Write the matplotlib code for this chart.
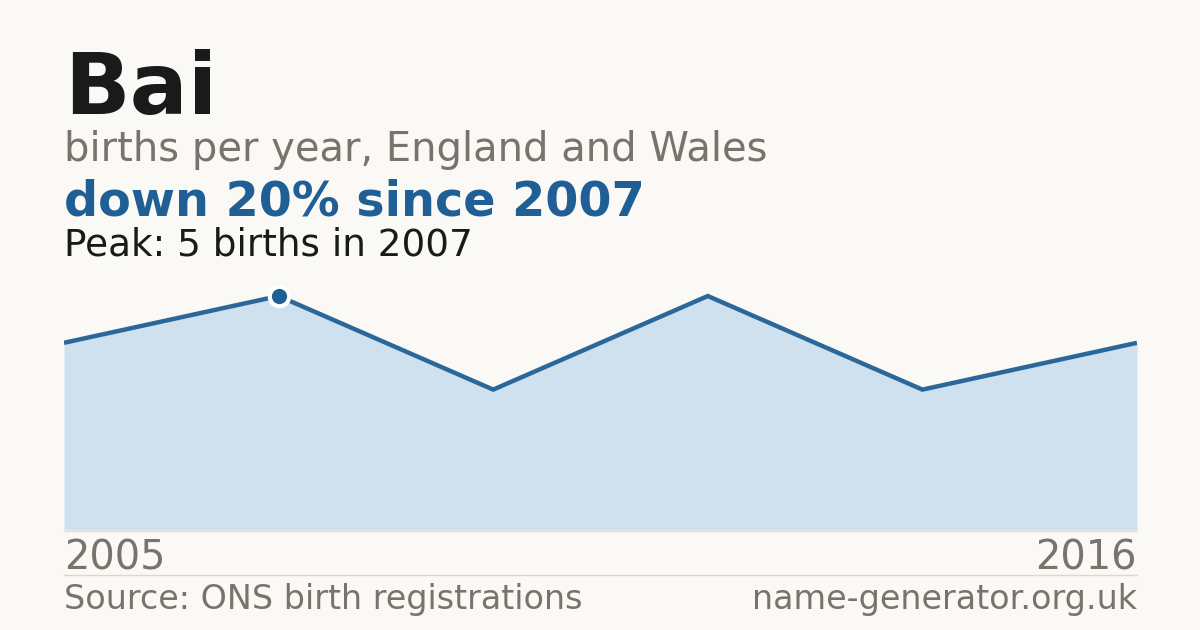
import matplotlib
matplotlib.use('Agg')
import matplotlib.pyplot as plt
from matplotlib.lines import Line2D

plt.rcParams['font.family'] = ['DejaVu Sans']

# data
years = [2005, 2007, 2009, 2011, 2014, 2016]
births = [4, 5, 3, 5, 3, 4]
name = 'Bai'
subtitle = 'births per year, England and Wales'
headline = 'down 20% since 2007'
peak_note = 'Peak: 5 births in 2007'
source = 'Source: ONS birth registrations'
site = 'name-generator.org.uk'

bg = '#faf9f5'
blue = '#1f5f96'
grey = '#78736b'

W, H = 1200, 630
fig = plt.figure(figsize=(W / 100, H / 100), dpi=100, facecolor=bg)

def fx(px):
    return px / W

def fy(py):
    return 1 - py / H

ax = fig.add_axes([fx(64), fy(530), fx(1137) - fx(64), fy(270) - fy(530)])
ax.set_facecolor(bg)
xs = list(range(len(births)))
ax.fill_between(xs, births, 0, color='#cfe0ef', lw=0)
ax.plot(xs, births, color='#2b6799', lw=3.2, solid_capstyle='butt', solid_joinstyle='miter')
pk = births.index(max(births))
ax.plot([xs[pk]], [births[pk]], 'o', ms=14, mfc=blue, mec='white', mew=3, zorder=5)
ax.set_xlim(0, len(births) - 1)
ax.set_ylim(0, 5.556)
ax.axis('off')

# baseline and separator
fig.add_artist(Line2D([fx(64), fx(1137)], [fy(530.5), fy(530.5)], color='#e4ded2', lw=1))
fig.add_artist(Line2D([fx(64), fx(1137)], [fy(574.5), fy(574.5)], color='#dcd8d0', lw=1))

fig.text(fx(64), fy(114), name, fontsize=62, fontweight='bold', color='#1a1a1a', va='baseline')
fig.text(fx(64), fy(161), subtitle, fontsize=28.8, color=grey, va='baseline')
fig.text(fx(64), fy(216), headline, fontsize=34.4, fontweight='bold', color=blue, va='baseline')
fig.text(fx(64), fy(255), peak_note, fontsize=26.9, color='#1a1a1a', va='baseline')
fig.text(fx(64), fy(570), str(years[0]), fontsize=28.7, color=grey, va='baseline')
fig.text(fx(1137), fy(570), str(years[-1]), fontsize=28.7, color=grey, va='baseline', ha='right')
fig.text(fx(64), fy(609), source, fontsize=24, color=grey, va='baseline')
fig.text(fx(1137), fy(609), site, fontsize=24, color=grey, va='baseline', ha='right')

fig.savefig('out.png', dpi=100, facecolor=bg)
